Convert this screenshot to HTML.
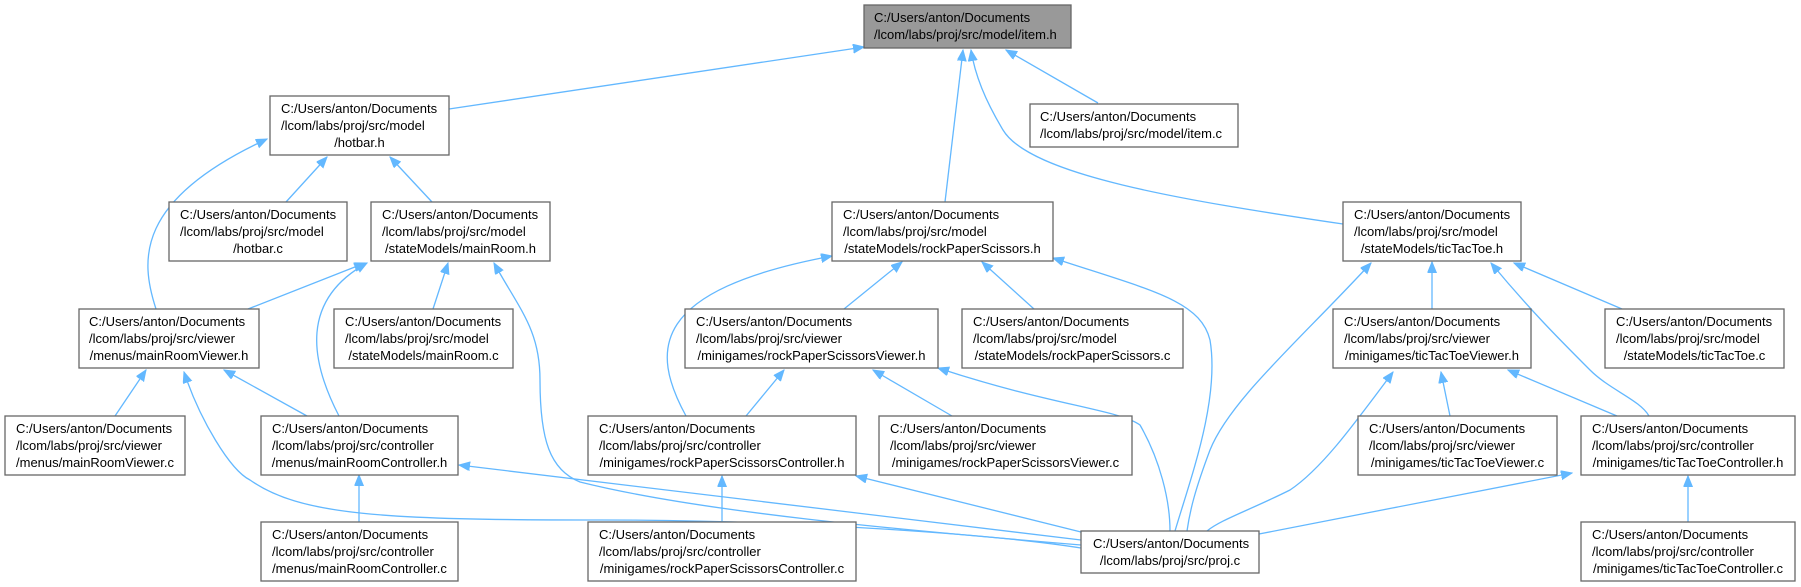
<!DOCTYPE html>
<html><head><meta charset="utf-8"><style>
html,body{margin:0;padding:0;background:#fff;}
svg{display:block;}
text{font-family:"Liberation Sans",Arial,sans-serif;font-size:13px;fill:#000;}
.e{fill:none;stroke:#63b8ff;stroke-width:1.3;marker-start:url(#a);}
rect{stroke:#666;stroke-width:1.3;fill:#fff;}
</style></head><body>
<svg width="1801" height="587" viewBox="0 0 1801 587" xmlns="http://www.w3.org/2000/svg">
<defs><marker id="a" markerUnits="userSpaceOnUse" markerWidth="12" markerHeight="10" refX="11" refY="4.5" orient="auto-start-reverse"><path d="M0,0 L11,4.5 L0,9 z" fill="#63b8ff" stroke="#63b8ff"/></marker></defs>
<g>
<path class="e" d="M864,47 L449,109"/>
<path class="e" d="M1006,50 L1098,103"/>
<path class="e" d="M963,50 L945,202"/>
<path class="e" d="M971,50 C975,75 985,100 1003,130 C1030,175 1180,200 1343,224"/>
<path class="e" d="M327,157 L286,202"/>
<path class="e" d="M390,157 L432,202"/>
<path class="e" d="M267,139 C135,200 140,260 156,309"/>
<path class="e" d="M365,263 L248,309"/>
<path class="e" d="M367,263 C300,300 310,360 339,416"/>
<path class="e" d="M448,263 L433,309"/>
<path class="e" d="M494,263 C520,310 540,330 540,380 C540,440 550,470 580,482 C700,512 900,530 1081,545"/>
<path class="e" d="M146,370 L115,416"/>
<path class="e" d="M224,370 L307,416"/>
<path class="e" d="M184,372 C200,420 230,470 250,480 C300,515 380,520 600,520 C800,520 1000,535 1081,548"/>
<path class="e" d="M459,465 L1081,540"/>
<path class="e" d="M359,475 L359,522"/>
<path class="e" d="M902,262 L844,309"/>
<path class="e" d="M982,262 L1034,309"/>
<path class="e" d="M832,256 C650,290 650,350 686,416"/>
<path class="e" d="M1053,258 C1150,290 1200,300 1210,340 C1220,400 1190,480 1175,531"/>
<path class="e" d="M784,370 L746,416"/>
<path class="e" d="M873,370 L952,416"/>
<path class="e" d="M938,368 C1050,405 1120,410 1140,425 C1160,460 1170,500 1170,531"/>
<path class="e" d="M856,476 L1081,532"/>
<path class="e" d="M722,476 L722,522"/>
<path class="e" d="M1432,262 L1432,309"/>
<path class="e" d="M1371,263 C1300,340 1230,400 1210,450 C1195,490 1190,510 1187,531"/>
<path class="e" d="M1491,263 C1530,310 1560,340 1590,370 C1610,390 1640,400 1649,416"/>
<path class="e" d="M1514,263 L1622,309"/>
<path class="e" d="M1508,370 L1617,416"/>
<path class="e" d="M1441,372 L1450,416"/>
<path class="e" d="M1393,372 C1350,430 1320,470 1290,490 C1250,510 1220,520 1207,531"/>
<path class="e" d="M1572,473 L1259,534"/>
<path class="e" d="M1688,476 L1688,522"/>
</g>
<g>
<rect x="864" y="5" width="207" height="43" style="fill:#999"/>
<text x="874" y="22">C:/Users/anton/Documents</text><text x="874" y="39">/lcom/labs/proj/src/model/item.h</text>

<rect x="1030" y="104" width="208" height="43"/>
<text x="1040" y="121">C:/Users/anton/Documents</text><text x="1040" y="138">/lcom/labs/proj/src/model/item.c</text>

<rect x="270" y="96" width="179" height="59"/>
<text x="281" y="113">C:/Users/anton/Documents</text><text x="281" y="130">/lcom/labs/proj/src/model</text><text x="359.5" y="147" text-anchor="middle">/hotbar.h</text>

<rect x="169" y="202" width="178" height="59"/>
<text x="180" y="219">C:/Users/anton/Documents</text><text x="180" y="236">/lcom/labs/proj/src/model</text><text x="258" y="253" text-anchor="middle">/hotbar.c</text>

<rect x="371" y="202" width="179" height="59"/>
<text x="382" y="219">C:/Users/anton/Documents</text><text x="382" y="236">/lcom/labs/proj/src/model</text><text x="460.5" y="253" text-anchor="middle">/stateModels/mainRoom.h</text>

<rect x="832" y="202" width="221" height="59"/>
<text x="843" y="219">C:/Users/anton/Documents</text><text x="843" y="236">/lcom/labs/proj/src/model</text><text x="942.5" y="253" text-anchor="middle">/stateModels/rockPaperScissors.h</text>

<rect x="1343" y="202" width="178" height="59"/>
<text x="1354" y="219">C:/Users/anton/Documents</text><text x="1354" y="236">/lcom/labs/proj/src/model</text><text x="1432" y="253" text-anchor="middle">/stateModels/ticTacToe.h</text>

<rect x="79" y="309" width="180" height="59"/>
<text x="89" y="326">C:/Users/anton/Documents</text><text x="89" y="343">/lcom/labs/proj/src/viewer</text><text x="169" y="360" text-anchor="middle">/menus/mainRoomViewer.h</text>

<rect x="334" y="309" width="179" height="59"/>
<text x="345" y="326">C:/Users/anton/Documents</text><text x="345" y="343">/lcom/labs/proj/src/model</text><text x="423.5" y="360" text-anchor="middle">/stateModels/mainRoom.c</text>

<rect x="685" y="309" width="253" height="59"/>
<text x="696" y="326">C:/Users/anton/Documents</text><text x="696" y="343">/lcom/labs/proj/src/viewer</text><text x="811.5" y="360" text-anchor="middle">/minigames/rockPaperScissorsViewer.h</text>

<rect x="962" y="309" width="221" height="59"/>
<text x="973" y="326">C:/Users/anton/Documents</text><text x="973" y="343">/lcom/labs/proj/src/model</text><text x="1072.5" y="360" text-anchor="middle">/stateModels/rockPaperScissors.c</text>

<rect x="1333" y="309" width="198" height="59"/>
<text x="1344" y="326">C:/Users/anton/Documents</text><text x="1344" y="343">/lcom/labs/proj/src/viewer</text><text x="1432" y="360" text-anchor="middle">/minigames/ticTacToeViewer.h</text>

<rect x="1605" y="309" width="179" height="59"/>
<text x="1616" y="326">C:/Users/anton/Documents</text><text x="1616" y="343">/lcom/labs/proj/src/model</text><text x="1694.5" y="360" text-anchor="middle">/stateModels/ticTacToe.c</text>

<rect x="5" y="416" width="180" height="59"/>
<text x="16" y="433">C:/Users/anton/Documents</text><text x="16" y="450">/lcom/labs/proj/src/viewer</text><text x="95" y="467" text-anchor="middle">/menus/mainRoomViewer.c</text>

<rect x="261" y="416" width="197" height="59"/>
<text x="272" y="433">C:/Users/anton/Documents</text><text x="272" y="450">/lcom/labs/proj/src/controller</text><text x="359.5" y="467" text-anchor="middle">/menus/mainRoomController.h</text>

<rect x="588" y="416" width="268" height="59"/>
<text x="599" y="433">C:/Users/anton/Documents</text><text x="599" y="450">/lcom/labs/proj/src/controller</text><text x="722" y="467" text-anchor="middle">/minigames/rockPaperScissorsController.h</text>

<rect x="879" y="416" width="253" height="59"/>
<text x="890" y="433">C:/Users/anton/Documents</text><text x="890" y="450">/lcom/labs/proj/src/viewer</text><text x="1005.5" y="467" text-anchor="middle">/minigames/rockPaperScissorsViewer.c</text>

<rect x="1358" y="416" width="199" height="59"/>
<text x="1369" y="433">C:/Users/anton/Documents</text><text x="1369" y="450">/lcom/labs/proj/src/viewer</text><text x="1457.5" y="467" text-anchor="middle">/minigames/ticTacToeViewer.c</text>

<rect x="1581" y="416" width="214" height="59"/>
<text x="1592" y="433">C:/Users/anton/Documents</text><text x="1592" y="450">/lcom/labs/proj/src/controller</text><text x="1688" y="467" text-anchor="middle">/minigames/ticTacToeController.h</text>

<rect x="261" y="522" width="197" height="59"/>
<text x="272" y="539">C:/Users/anton/Documents</text><text x="272" y="556">/lcom/labs/proj/src/controller</text><text x="359.5" y="573" text-anchor="middle">/menus/mainRoomController.c</text>

<rect x="588" y="522" width="268" height="59"/>
<text x="599" y="539">C:/Users/anton/Documents</text><text x="599" y="556">/lcom/labs/proj/src/controller</text><text x="722" y="573" text-anchor="middle">/minigames/rockPaperScissorsController.c</text>

<rect x="1081" y="531" width="178" height="42"/>
<text x="1093" y="548">C:/Users/anton/Documents</text><text x="1170" y="565" text-anchor="middle">/lcom/labs/proj/src/proj.c</text>

<rect x="1581" y="522" width="214" height="59"/>
<text x="1592" y="539">C:/Users/anton/Documents</text><text x="1592" y="556">/lcom/labs/proj/src/controller</text><text x="1688" y="573" text-anchor="middle">/minigames/ticTacToeController.c</text>
</g>
</svg>
</body></html>
